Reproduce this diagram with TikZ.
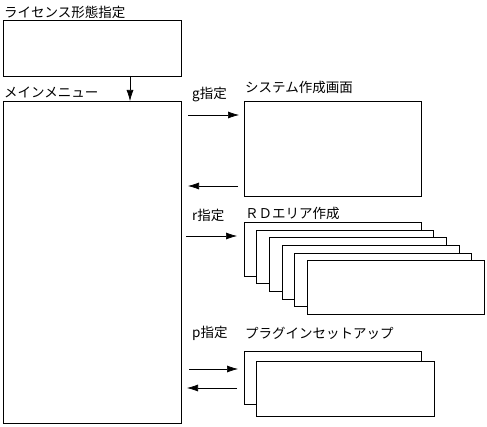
\documentclass[tikz,border=0pt]{standalone}
\usepackage{fontspec}
\setmainfont{Noto Sans CJK JP}
\usetikzlibrary{arrows.meta}
\begin{document}
\begin{tikzpicture}[x=1pt,y=-1pt,
  box/.style={draw,fill=white,line width=0.8pt},
  lbl/.style={anchor=west,inner sep=0pt,font=\fontsize{13.5}{15}\selectfont},
  arr/.style={-{Latex[length=11pt,width=7pt]},line width=0.6pt}]
\useasboundingbox (0,0) rectangle (487,427);
% top box
\node[lbl] (tl) at (4,12) {ライセンス形態指定};
\draw[box] (3,20) rectangle (181,76);
\coordinate (tb) at (130,76);
\node[lbl] (ml) at (4,92) {メインメニュー};
\draw[box] (3,101) rectangle (181,423);
\coordinate (mt) at (130,101);
\draw[arr] (tb) -- (mt);
% system
\node[lbl] (gl) at (192,95) {g指定};
\node[lbl] (sl) at (245,87) {システム作成画面};
\draw[box] (244,101) rectangle (421,196);
\coordinate (g1) at (188,115);
\coordinate (g2) at (239,115);
\draw[arr] (g1) -- (g2);
\coordinate (g3) at (238,186);
\coordinate (g4) at (188,186);
\draw[arr] (g3) -- (g4);
% RD area
\node[lbl] (rl) at (192,215) {r指定};
\node[lbl] (rdl) at (245,213) {ＲＤエリア作成};
\foreach \i in {0,...,5}{
  \draw[box] ({244+12.7*\i},{222.3+7.7*\i}) rectangle ({421+12.7*\i},{276+7.7*\i});
}
\coordinate (r1) at (186,236);
\coordinate (r2) at (237,236);
\draw[arr] (r1) -- (r2);
% plugin
\node[lbl] (pl) at (192,333) {p指定};
\node[lbl] (pul) at (245,333) {プラグインセットアップ};
\draw[box] (244,351) rectangle (421,404);
\draw[box] (256.5,361.5) rectangle (434,416);
\coordinate (p1) at (189,369);
\coordinate (p2) at (238,369);
\draw[arr] (p1) -- (p2);
\coordinate (p3) at (237,388);
\coordinate (p4) at (187,388);
\draw[arr] (p3) -- (p4);
\end{tikzpicture}
\end{document}
